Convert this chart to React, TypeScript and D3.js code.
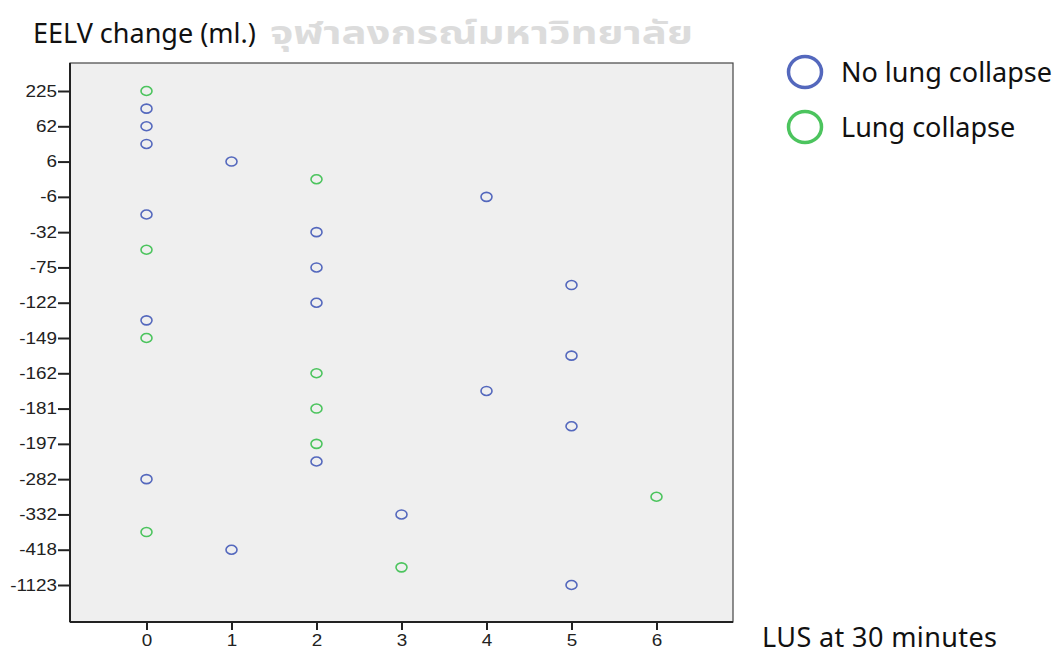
import React, { useEffect, useRef } from 'react'
import * as d3 from 'd3'

// y categories (EELV change, ml.), top to bottom. odd ones are unlabeled in the chart, values guessed
const eelvCategories = ['225', '100', '62', '35', '6', '0', '-6', '-15', '-32', '-50', '-75', '-100', '-122', '-135',
    '-149', '-155', '-162', '-170', '-181', '-190', '-197', '-240', '-282', '-300', '-332', '-380', '-418', '-600', '-1123']

// LUS at 30 minutes for each category above
const lusValues = [0, 0, 0, 0, 1, 2, 4, 0, 2, 0, 2, 5, 2, 0, 0, 5, 2, 4, 2, 5, 2, 2, 0, 6, 3, 0, 1, 3, 5]

// 1 = lung collapse, 0 = no lung collapse
const collapse = [1, 0, 0, 0, 0, 1, 0, 0, 0, 1, 0, 0, 0, 0, 1, 0, 1, 0, 1, 0, 1, 0, 0, 1, 0, 1, 0, 1, 0]

const xTicks = [0, 1, 2, 3, 4, 5, 6]
const legendLabels = ['No lung collapse', 'Lung collapse']
const colors = ['#5468bd', '#4cc45e']

export default function App() {
    const ref = useRef<SVGSVGElement>(null)

    useEffect(() => {
        const svg = d3.select(ref.current)
        svg.selectAll('*').remove()

        const frame = { left: 70, right: 733, top: 63, bottom: 622 }

        const x = d3.scaleLinear().domain([-0.9, 6.9]).range([frame.left, frame.right])
        const y = d3.scalePoint<string>().domain(eelvCategories).range([91, 585])

        // watermark
        svg.append('text')
            .attr('x', 270).attr('y', 44)
            .attr('font-family', 'Noto Sans Thai, Loma, Garuda, Noto Sans, sans-serif')
            .attr('font-weight', 'bold')
            .attr('font-size', 32)
            .attr('fill', '#dcdcdc')
            .attr('textLength', 423)
            .attr('lengthAdjust', 'spacingAndGlyphs')
            .text('จุฬาลงกรณ์มหาวิทยาลัย')

        // title
        svg.append('text')
            .attr('x', 33).attr('y', 43)
            .attr('font-family', 'Noto Sans')
            .attr('font-size', 27)
            .attr('fill', '#111')
            .text('EELV change (ml.)')

        // plot background
        svg.append('rect')
            .attr('x', frame.left).attr('y', frame.top)
            .attr('width', frame.right - frame.left)
            .attr('height', frame.bottom - frame.top)
            .attr('fill', '#efefef')
            .attr('stroke', '#444')
            .attr('stroke-width', 1.2)

        // axes
        const yAxis = d3.axisLeft(y)
            .tickValues(eelvCategories.filter((d, i) => i % 2 === 0))
            .tickSize(12)
            .tickPadding(1)
        const yAxisGroup = svg.append('g')
            .attr('transform', `translate(${frame.left}, 0)`)
            .call(yAxis)
        yAxisGroup.select('.domain')
            .attr('d', `M0,${frame.top}V${frame.bottom}`)

        const xAxis = d3.axisBottom(x)
            .tickValues(xTicks)
            .tickSize(8)
            .tickPadding(5)
        const xAxisGroup = svg.append('g')
            .attr('transform', `translate(0, ${frame.bottom})`)
            .call(xAxis)
        xAxisGroup.select('.domain')
            .attr('d', `M${frame.left},0H${frame.right}`)

        svg.selectAll('.domain, .tick line')
            .attr('stroke', '#222')
            .attr('stroke-width', 2)
        // the reference is a bit stretched sideways
        svg.selectAll('.tick text')
            .attr('font-family', 'Liberation Sans')
            .attr('font-size', 16)
            .attr('fill', '#222')
            .attr('transform', 'scale(1.18,1)')
        yAxisGroup.selectAll('.tick text')
            .attr('x', -11)

        // points
        svg.append('g')
            .selectAll('ellipse')
            .data(eelvCategories)
            .enter()
            .append('ellipse')
            .attr('cx', (d, i) => x(lusValues[i]))
            .attr('cy', d => y(d))
            .attr('rx', 5.5)
            .attr('ry', 4.5)
            .attr('fill', 'none')
            .attr('stroke', (d, i) => colors[collapse[i]])
            .attr('stroke-width', 1.6)

        // legend
        const legend = svg.append('g')
        legendLabels.forEach((label, i) => {
            legend.append('ellipse')
                .attr('cx', 805).attr('cy', 72 + i * 55)
                .attr('rx', 16.5).attr('ry', 15.5)
                .attr('fill', 'none')
                .attr('stroke', colors[i])
                .attr('stroke-width', 3.5)
            legend.append('text')
                .attr('x', 841).attr('y', 82 + i * 55)
                .attr('font-family', 'Noto Sans')
                .attr('font-size', 27)
                .attr('fill', '#111')
                .text(label)
        })

        // x axis title
        svg.append('text')
            .attr('x', 762).attr('y', 647)
            .attr('font-family', 'Noto Sans')
            .attr('font-size', 27)
            .attr('fill', '#111')
            .attr('textLength', 235)
            .text('LUS at 30 minutes')
    }, [])

    return (
        <svg ref={ref} width={1062} height={655} style={{ position: 'absolute', top: 0, left: 0 }} />
    )
}
